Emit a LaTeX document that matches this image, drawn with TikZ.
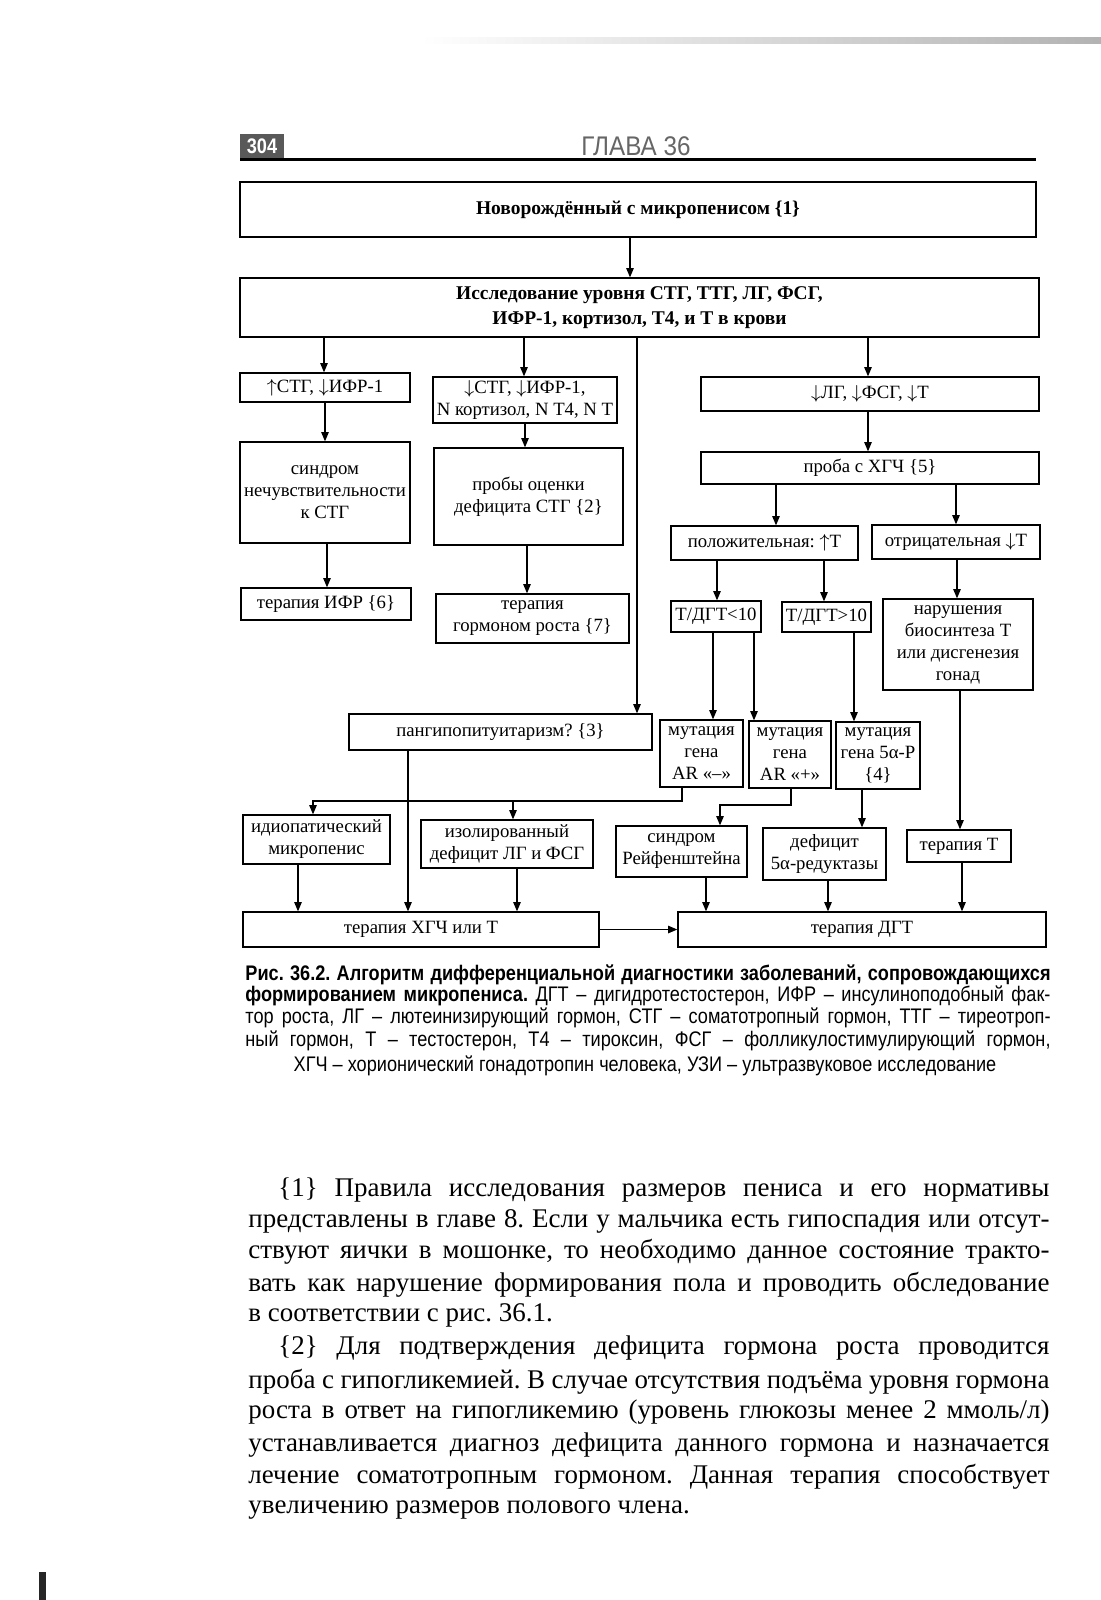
\documentclass[tikz,border=0pt]{standalone}
\usepackage{fontspec}
\setmainfont{Liberation Serif}
\newfontfamily\capfont[FakeStretch=0.86]{Liberation Sans}
\newfontfamily\headfont[FakeStretch=0.9]{Liberation Sans}
\usetikzlibrary{arrows.meta}
\hbadness=10000
\frenchspacing

\begin{document}
\begin{tikzpicture}[
  x=0.15mm, y=-0.15mm,
  box/.style={draw, line width=.5pt, align=center, inner sep=1pt,
              font=\fontsize{8}{9.4}\selectfont},
  topbox/.style={box, font=\fontsize{8.3}{10.6}\selectfont\bfseries},
  sz/.style 2 args={minimum width=#1*0.15mm, minimum height=#2*0.15mm},
  arrow/.style={-{Triangle[length=1.4mm, width=1.1mm]}, line width=.7pt},
  txt/.style={anchor=base west, inner sep=0pt},
  captxt/.style={txt, font=\capfont\fontsize{9}{10}\selectfont},
  bodytxt/.style={txt, font=\fontsize{11.5}{13}\selectfont},
]
  \useasboundingbox (0,0) rectangle (1101,1600);
  \fill[white] (0,0) rectangle (1101,1600);

  % scan traces
  \shade[left color=white, right color=black!30] (420,37) rectangle (1101,43);
  \fill[black!85] (39,1572) rectangle (46,1600);

  % running head
  \node[fill=black!65, text=white, inner sep=0pt, sz={44}{25},
        font=\capfont\bfseries\fontsize{9}{10}\selectfont] (pnum) at (262,146) {304};
  \node[text=black!60, font=\headfont\fontsize{11.5}{12}\selectfont] (chap) at (636,146) {ГЛАВА 36};
  \draw[line width=1pt] (240,159.5) -- (1036,159.5);

  % flowchart
  \node[topbox, sz={796}{55}] (newb) at (638,209.5) {Новорождённый с микропенисом \{1\}};
  \node[topbox, sz={799}{59}] (labs) at (639.5,307.5)
    {Исследование уровня СТГ, ТТГ, ЛГ, ФСГ,\\ИФР-1, кортизол, Т4, и Т в крови};

  \node[box, sz={170}{29}] (stgup) at (325,387.5) {$\uparrow$СТГ, $\downarrow$ИФР-1};
  \node[box, sz={184}{46}] (stgdn) at (525,400) {$\downarrow$СТГ, $\downarrow$ИФР-1,\\N кортизол, N Т4, N Т};
  \node[box, sz={338}{34}] (lgdn) at (870,394) {$\downarrow$ЛГ, $\downarrow$ФСГ, $\downarrow$Т};

  \node[box, sz={170}{101}] (insens) at (325,492.5) {синдром\\нечувствительности\\к СТГ};
  \node[box, sz={189}{97}] (probs) at (528.5,496.5) {пробы оценки\\дефицита СТГ \{2\}};
  \node[box, sz={338}{32}] (hcg) at (870,468) {проба с ХГЧ \{5\}};

  \node[box, sz={170}{32}] (igfth) at (326,604) {терапия ИФР \{6\}};
  \node[box, sz={193}{49}] (ghth) at (532.5,618.5) {терапия\\гормоном роста \{7\}};
  \node[box, sz={187}{34}] (pos) at (764.5,543) {положительная: $\uparrow$Т};
  \node[box, sz={168}{34}] (neg) at (956,542) {отрицательная $\downarrow$Т};

  \node[box, sz={90}{31}] (rlo) at (716,616.5) {Т/ДГТ<10};
  \node[box, sz={89}{30}] (rhi) at (826.5,617) {Т/ДГТ>10};
  \node[box, sz={150}{91}] (biosyn) at (958,644.5) {нарушения\\биосинтеза Т\\или дисгенезия\\гонад};

  \node[box, sz={303}{36}] (panhyp) at (500.5,732) {пангипопитуитаризм? \{3\}};
  \node[box, sz={83}{67}] (armin) at (701.5,753.5) {мутация\\гена\\AR «–»};
  \node[box, sz={82}{67}] (arplus) at (790,754.5) {мутация\\гена\\AR «+»};
  \node[box, sz={84}{67}] (red5) at (878,755.5) {мутация\\гена 5α-Р\\\{4\}};

  \node[box, sz={147}{49}] (idio) at (316.5,839.5) {идиопатический\\микропенис};
  \node[box, sz={172}{48}] (isol) at (507,844) {изолированный\\дефицит ЛГ и ФСГ};
  \node[box, sz={131}{51}] (reif) at (681.5,851.5) {синдром\\Рейфенштейна};
  \node[box, sz={123}{52}] (def5) at (824.5,854) {дефицит\\5α-редуктазы};
  \node[box, sz={104}{32}] (tth) at (959,846) {терапия Т};

  \node[box, sz={356}{35}] (hcgth) at (421,929.5) {терапия ХГЧ или Т};
  \node[box, sz={368}{35}] (dhtth) at (862,929.5) {терапия ДГТ};

  \coordinate (jl) at (513,801);
  \coordinate (jr) at (720,805);

  \draw[arrow] (630,0 |- newb.south) -- (630,0 |- labs.north);
  \draw[arrow] (324,0 |- labs.south) -- (324,0 |- stgup.north);
  \draw[arrow] (524,0 |- labs.south) -- (524,0 |- stgdn.north);
  \draw[arrow] (637,0 |- labs.south) -- (637,0 |- panhyp.north);
  \draw[arrow] (868,0 |- labs.south) -- (868,0 |- lgdn.north);

  \draw[arrow] (325,0 |- stgup.south) -- (325,0 |- insens.north);
  \draw[arrow] (525,0 |- stgdn.south) -- (525,0 |- probs.north);
  \draw[arrow] (327,0 |- insens.south) -- (327,0 |- igfth.north);
  \draw[arrow] (527,0 |- probs.south) -- (527,0 |- ghth.north);

  \draw[arrow] (868,0 |- lgdn.south) -- (868,0 |- hcg.north);
  \draw[arrow] (776,0 |- hcg.south) -- (776,0 |- pos.north);
  \draw[arrow] (956,0 |- hcg.south) -- (956,0 |- neg.north);
  \draw[arrow] (717,0 |- pos.south) -- (717,0 |- rlo.north);
  \draw[arrow] (824,0 |- pos.south) -- (824,0 |- rhi.north);
  \draw[arrow] (957,0 |- neg.south) -- (957,0 |- biosyn.north);

  \draw[arrow] (713,0 |- rlo.south) -- (713,0 |- armin.north);
  \draw[arrow] (754,0 |- rlo.south) -- (754,0 |- arplus.north);
  \draw[arrow] (854,0 |- rhi.south) -- (854,0 |- red5.north);
  \draw[arrow] (960,0 |- biosyn.south) -- (960,0 |- tth.north);

  \draw[arrow] (682,0 |- armin.south) |- (jl) -| (313,0 |- idio.north);
  \draw[arrow] (jl) -- (513,0 |- isol.north);
  \draw[arrow] (791,0 |- arplus.south) |- (jr) -- (jr |- reif.north);
  \draw[arrow] (862,0 |- red5.south) -- (862,0 |- def5.north);

  \draw[arrow] (408,0 |- panhyp.south) -- (408,0 |- hcgth.north);
  \draw[arrow] (298,0 |- idio.south) -- (298,0 |- hcgth.north);
  \draw[arrow] (517,0 |- isol.south) -- (517,0 |- hcgth.north);
  \draw[arrow] (706,0 |- reif.south) -- (706,0 |- dhtth.north);
  \draw[arrow] (828,0 |- def5.south) -- (828,0 |- dhtth.north);
  \draw[arrow] (962,0 |- tth.south) -- (962,0 |- dhtth.north);
  \draw[arrow] (hcgth) -- (dhtth);

  % caption
  \node[captxt] (cap1) at (245,980)
    {\hbox to 120.75mm{\bfseries Рис. 36.2. Алгоритм дифференциальной диагностики заболеваний, сопровождающихся}};
  \node[captxt] (cap2) at (245,1001)
    {\hbox to 120.75mm{\bfseries формированием микропениса.\mdseries{} ДГТ – дигидротестостерон, ИФР – инсулиноподобный фак-}};
  \node[captxt] (cap3) at (245,1023)
    {\hbox to 120.75mm{тор роста, ЛГ – лютеинизирующий гормон, СТГ – соматотропный гормон, ТТГ – тиреотроп-}};
  \node[captxt] (cap4) at (245,1046)
    {\hbox to 120.75mm{ный гормон, Т – тестостерон, Т4 – тироксин, ФСГ – фолликулостимулирующий гормон,}};
  \node[captxt, anchor=base] (cap5) at (645,1071)
    {ХГЧ – хорионический гонадотропин человека, УЗИ – ультразвуковое исследование};

  % text
  \node[bodytxt] (p1a) at (278,1196) {\hbox to 115.65mm{\{1\} Правила исследования размеров пениса и его нормативы}};
  \node[bodytxt] (p1b) at (248,1227) {\hbox to 120.15mm{представлены в главе 8. Если у мальчика есть гипоспадия или отсут-}};
  \node[bodytxt] (p1c) at (248,1258) {\hbox to 120.15mm{ствуют яички в мошонке, то необходимо данное состояние тракто-}};
  \node[bodytxt] (p1d) at (248,1291) {\hbox to 120.15mm{вать как нарушение формирования пола и проводить обследование}};
  \node[bodytxt] (p1e) at (248,1321) {в соответствии с рис. 36.1.};
  \node[bodytxt] (p2a) at (278,1354) {\hbox to 115.65mm{\{2\} Для подтверждения дефицита гормона роста проводится}};
  \node[bodytxt] (p2b) at (248,1388) {\hbox to 120.15mm{проба с гипогликемией. В случае отсутствия подъёма уровня гормона}};
  \node[bodytxt] (p2c) at (248,1418) {\hbox to 120.15mm{роста в ответ на гипогликемию (уровень глюкозы менее 2 ммоль/л)}};
  \node[bodytxt] (p2d) at (248,1451) {\hbox to 120.15mm{устанавливается диагноз дефицита данного гормона и назначается}};
  \node[bodytxt] (p2e) at (248,1483) {\hbox to 120.15mm{лечение соматотропным гормоном. Данная терапия способствует}};
  \node[bodytxt] (p2f) at (248,1513) {увеличению размеров полового члена.};
\end{tikzpicture}
\end{document}
